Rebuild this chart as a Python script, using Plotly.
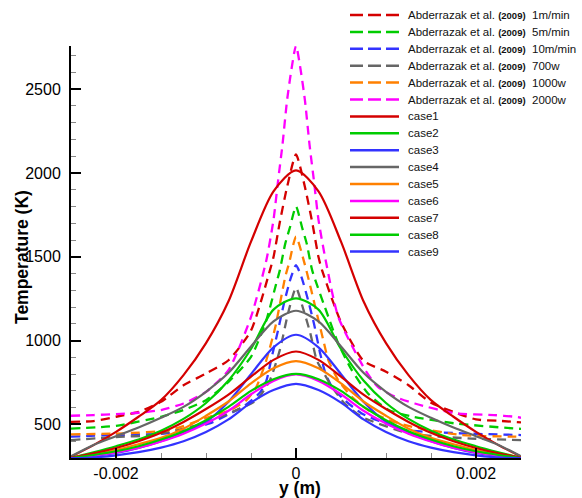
import plotly.graph_objects as go

# ---------------- data (y in metres, temperature in K) ----------------
X_SOLID = [-0.0025, -0.00225, -0.002, -0.00175, -0.0015, -0.00125, -0.001, -0.00075,
           -0.0005, -0.00025, 0.0, 0.00025, 0.0005, 0.00075, 0.001, 0.00125, 0.0015,
           0.00175, 0.002, 0.00225, 0.0025]

CASE1 = [308, 377, 456, 546, 645, 794, 985, 1235, 1590, 1890, 2015, 1890, 1590, 1235, 985, 794, 645, 546, 456, 377, 308]
CASE2 = [300, 334, 370, 410, 463, 533, 628, 762, 950, 1185, 1252, 1185, 950, 762, 628, 533, 463, 410, 370, 334, 300]
CASE3 = [300, 313, 330, 360, 400, 450, 515, 635, 800, 960, 1035, 960, 800, 635, 515, 450, 400, 360, 330, 313, 300]
CASE4 = [310, 378, 430, 482, 540, 605, 695, 808, 965, 1115, 1178, 1115, 965, 808, 695, 605, 540, 482, 430, 378, 310]
CASE5 = [301, 322, 348, 382, 420, 475, 552, 637, 745, 835, 878, 835, 745, 637, 552, 475, 420, 382, 348, 322, 301]
CASE6 = [300, 315, 334, 360, 398, 445, 505, 582, 680, 760, 798, 760, 680, 582, 505, 445, 398, 360, 334, 315, 300]
CASE7 = [302, 328, 360, 400, 450, 515, 592, 678, 785, 885, 935, 885, 785, 678, 592, 515, 450, 400, 360, 328, 302]
CASE8 = [300, 318, 340, 370, 410, 460, 525, 605, 700, 770, 802, 770, 700, 605, 525, 460, 410, 370, 340, 318, 300]
CASE9 = [300, 303, 316, 335, 362, 400, 455, 530, 630, 705, 742, 705, 630, 530, 455, 400, 362, 335, 316, 303, 300]

X_A1M = [-0.0025, -0.00225, -0.002, -0.00175, -0.0015, -0.00125, -0.001, -0.00075, -0.0005,
         -0.00029, -0.00025, -0.00018, -0.0001, 0.0, 0.0001, 0.00018, 0.00025, 0.00029,
         0.0005, 0.00075, 0.001, 0.00125, 0.0015, 0.00175, 0.002, 0.00225, 0.0025]
T_A1M = [516, 520, 546, 575, 635, 734, 804, 883, 1060, 1419, 1498, 1706, 1914, 2110,
         1914, 1706, 1498, 1419, 1110, 880, 815, 734, 630, 575, 530, 522, 512]

X_A5M = [-0.0025, -0.002, -0.0015, -0.00125, -0.001, -0.00075, -0.0005, -0.00033, -0.00022,
         -0.00018, -0.00012, -0.000067, 0.0, 0.000067, 0.00012, 0.00018, 0.00036, 0.00047,
         0.00062, 0.0008, 0.00103, 0.0013, 0.00177, 0.00243, 0.0025]
T_A5M = [475, 492, 546, 586, 645, 754, 903, 1121, 1340, 1419, 1577, 1676, 1800, 1676,
         1577, 1419, 1141, 982, 824, 685, 586, 546, 506, 476, 474]

X_A10M = [-0.0025, -0.00207, -0.00144, -0.00096, -0.00075, -0.00059, -0.0004, -0.00033,
          -0.00027, -0.0002, -0.00013, -0.00006, 0.0, 0.00006, 0.00013, 0.0002, 0.00027,
          0.00033, 0.0004, 0.00054, 0.00073, 0.001, 0.00121, 0.00184, 0.0025]
T_A10M = [427, 437, 447, 506, 560, 605, 690, 760, 900, 1060, 1230, 1370, 1450, 1380,
          1250, 1100, 920, 800, 724, 645, 566, 505, 467, 447, 437]

X_A700 = [-0.0025, -0.002, -0.00159, -0.00103, -0.00066, -0.00044, -0.00029, -0.00018,
          -0.000085, 0.0, 0.000085, 0.00016, 0.00023, 0.00029, 0.0004, 0.00054, 0.00073,
          0.00125, 0.00191, 0.0025]
T_A700 = [407, 425, 437, 506, 586, 645, 764, 943, 1170, 1315, 1180, 1042, 883, 824,
          724, 625, 546, 447, 417, 407]

X_A1000 = [-0.0025, -0.00192, -0.0014, -0.00096, -0.00073, -0.00055, -0.00044, -0.00033,
           -0.00023, -0.00012, -0.000074, 0.0, 0.0001, 0.00017, 0.00025, 0.0003, 0.00036,
           0.00047, 0.00062, 0.0008, 0.00103, 0.00129, 0.00184, 0.00243, 0.0025]
T_A1000 = [441, 447, 467, 546, 586, 645, 724, 883, 1081, 1379, 1468, 1620, 1450, 1300,
           1120, 1010, 883, 764, 665, 586, 526, 486, 437, 427, 427]

X_A2000 = [-0.0025, -0.00225, -0.002, -0.00175, -0.0015, -0.00125, -0.001, -0.00075, -0.0005,
           -0.00033, -0.00025, -0.0002, -0.00015, -0.0001, -0.00005, 0.0, 0.00005, 0.0001,
           0.00015, 0.0002, 0.00025, 0.00033, 0.00047, 0.00077, 0.00091, 0.0011, 0.00132,
           0.00177, 0.0022, 0.00243, 0.0025]
T_A2000 = [552, 556, 562, 570, 586, 625, 694, 824, 1141, 1478, 1720, 1950, 2170, 2430,
           2620, 2760, 2620, 2430, 2170, 1950, 1720, 1478, 1141, 824, 724, 665, 625,
           566, 556, 546, 540]

X_TICKS = [-0.002, 0.0, 0.002]
X_TICK_TEXT = ["-0.002", "0", "0.002"]
X_MINOR = [-0.0015, -0.001, -0.0005, 0.0005, 0.001, 0.0015]

RED, GREEN, BLUE, GRAY, ORANGE, MAGENTA = "#d40000", "#00cc00", "#3333ff", "#666666", "#ff8000", "#ff00ff"

YR = "<b><span style='font-size:9.5px'>(2009)</span></b>"
dashed = [
    (f"Abderrazak et al. {YR}\u00a0\u00a01m/min", RED, X_A1M, T_A1M),
    (f"Abderrazak et al. {YR}\u00a0\u00a05m/min", GREEN, X_A5M, T_A5M),
    (f"Abderrazak et al. {YR}\u00a0\u00a010m/min", BLUE, X_A10M, T_A10M),
    (f"Abderrazak et al. {YR}\u00a0\u00a0700w", GRAY, X_A700, T_A700),
    (f"Abderrazak et al. {YR}\u00a0\u00a01000w", ORANGE, X_A1000, T_A1000),
    (f"Abderrazak et al. {YR}\u00a0\u00a02000w", MAGENTA, X_A2000, T_A2000),
]
solid = [
    ("case1", RED, CASE1), ("case2", GREEN, CASE2), ("case3", BLUE, CASE3),
    ("case4", GRAY, CASE4), ("case5", ORANGE, CASE5), ("case6", MAGENTA, CASE6),
    ("case7", RED, CASE7), ("case8", GREEN, CASE8), ("case9", BLUE, CASE9),
]

fig = go.Figure()
for name, col, xs, ys in dashed:
    fig.add_trace(go.Scatter(x=xs, y=ys, mode="lines", name=name,
                             line=dict(color=col, width=2.3, dash="9px,6px", shape="spline", smoothing=0.6)))
for name, col, ys in solid:
    fig.add_trace(go.Scatter(x=X_SOLID, y=ys, mode="lines", name=name,
                             line=dict(color=col, width=2.2, shape="spline", smoothing=0.8)))

# ---------------- manual legend (to match tight row spacing) ----------------
L, T0, W, H = 71, 46, 450, 412
def px2x(px): return (px - L) / W
def py2y(py): return (T0 + H - py) / H

shapes, annotations = [], []
entries = [(n, c, "13px,5px") for n, c, _, _ in dashed] + [(n, c, "solid") for n, c, _ in solid]
for i, (name, col, dsh) in enumerate(entries):
    yy = py2y(15 + 16.9 * i)
    shapes.append(dict(type="line", xref="paper", yref="paper", x0=px2x(350), x1=px2x(399),
                       y0=yy, y1=yy, line=dict(color=col, width=2.5, dash=dsh)))
    annotations.append(dict(xref="paper", yref="paper", x=px2x(406), y=yy, xanchor="left",
                            yanchor="middle", showarrow=False, text=name,
                            font=dict(family="Arial", size=11.5, color="#111")))

annotations.append(dict(xref="paper", yref="paper", x=px2x(22), y=py2y(257), text="<b>Temperature (K)</b>",
                        textangle=-90, showarrow=False, xanchor="center", yanchor="middle",
                        font=dict(family="Arial", size=17.5, color="black")))
annotations.append(dict(xref="paper", yref="paper", x=px2x(300), y=py2y(488), text="<b>y (m)</b>",
                        showarrow=False, xanchor="center", yanchor="middle",
                        font=dict(family="Arial", size=17.5, color="black")))

fig.update_layout(
    width=582, height=498, margin=dict(l=71, r=61, t=46, b=40),
    plot_bgcolor="white", paper_bgcolor="white", showlegend=False,
    shapes=shapes, annotations=annotations,
    font=dict(family="Arial", color="black"),
)
fig.update_xaxes(range=[-0.0025, 0.0025], showline=True, linecolor="black", linewidth=2,
                 ticks="inside", ticklen=10, tickwidth=2, tickcolor="black",
                 tickmode="array", tickvals=X_TICKS, ticktext=X_TICK_TEXT,
                 tickfont=dict(family="Arial", size=16, color="black"),
                 showgrid=False, zeroline=False,
                 minor=dict(tickmode="array", tickvals=X_MINOR, ticks="inside", ticklen=5,
                            tickwidth=1, tickcolor="#888", showgrid=False))
fig.update_yaxes(range=[300, 2757], showline=True, linecolor="black", linewidth=2,
                 ticks="inside", ticklen=10, tickwidth=2, tickcolor="black",
                 tickmode="linear", tick0=0, dtick=500, tickformat="d",
                 tickfont=dict(family="Arial", size=16, color="black"), ticklabelstandoff=5,
                 showgrid=False, zeroline=False,
                 minor=dict(tick0=0, dtick=100, ticks="inside", ticklen=5,
                            tickwidth=1, tickcolor="#888", showgrid=False))

fig.write_html("out.html")
